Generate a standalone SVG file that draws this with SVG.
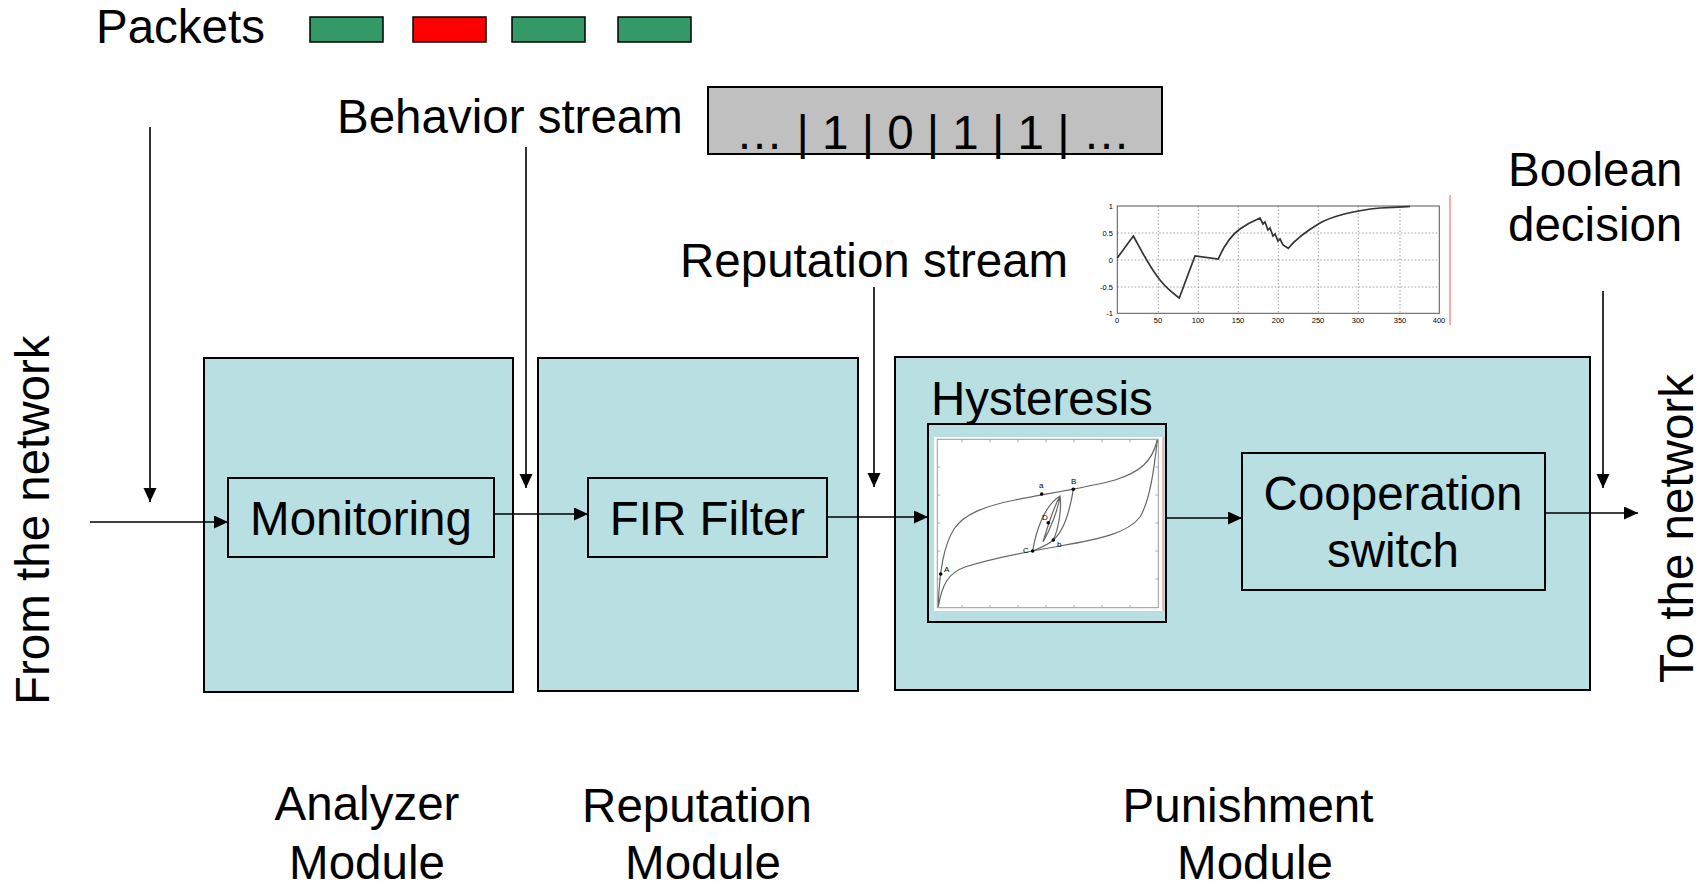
<svg xmlns="http://www.w3.org/2000/svg" width="1706" height="887" viewBox="0 0 1706 887">
<defs>
<marker id="ah" markerUnits="userSpaceOnUse" markerWidth="15" markerHeight="14" refX="14" refY="6.5" orient="auto">
<path d="M0,0 L14,6.5 L0,13 Z" fill="#000"/>
</marker>
<style>
text{font-family:"Liberation Sans",Arial,sans-serif;fill:#000}
.lbl{font-size:47.5px}
.mod{fill:#B8DFE2;stroke:#000;stroke-width:2}
.box{fill:none;stroke:#000;stroke-width:2}
.conn{fill:none;stroke:#000;stroke-width:1.6;marker-end:url(#ah)}
.pk{stroke:#000;stroke-width:1.5}
.tick{font-size:7.5px;fill:#555}
.crv{fill:none;stroke:#333;stroke-width:1.7}
.hc{fill:none;stroke:#666;stroke-width:1.2}
.hl{font-size:8px;fill:#666}
</style>
</defs>
<rect width="1706" height="887" fill="#fff"/>

<g id="packets">
<text class="lbl" x="96" y="43">Packets</text>
<rect class="pk" x="310" y="17" width="73" height="25" fill="#339966"/>
<rect class="pk" x="413" y="17" width="73" height="25" fill="#FF0000"/>
<rect class="pk" x="512" y="17" width="73" height="25" fill="#339966"/>
<rect class="pk" x="618" y="17" width="73" height="25" fill="#339966"/>
</g>

<g id="behavior-stream">
<text class="lbl" x="337" y="133">Behavior stream</text>
<rect x="708" y="87" width="454" height="67" fill="#C0C0C0" stroke="#000" stroke-width="2"/>
<text class="lbl" x="933" y="149" text-anchor="middle">… | 1 | 0 | 1 | 1 | …</text>
</g>

<g id="reputation-stream">
<text class="lbl" x="680" y="277">Reputation stream</text>
<rect x="1100" y="196" width="352" height="132" fill="#fff"/>
<g stroke="#888" stroke-width="0.8" stroke-dasharray="1.5,2">
<path d="M1158.3,206V313M1198.3,206V313M1238.3,206V313M1278.3,206V313M1318.3,206V313M1358.3,206V313M1400,206V313"/>
<path d="M1117.3,233H1439.3M1117.3,260H1439.3M1117.3,287H1439.3"/>
</g>
<rect x="1117.3" y="206" width="322" height="107.3" fill="none" stroke="#555" stroke-width="1"/>
<path class="crv" d="M1117.3,258 L1133.3,236 C1140,248 1150,268 1160,280 C1167,289 1174,294 1179.3,298 L1195,256 L1218.3,259 C1223,248 1230,236 1240,229 C1247,224 1253,221 1260,218 L1263,224 L1265,222 L1268,230 L1270,228 L1273,236 L1275,234 L1278,241 L1280,239 L1283,245 L1288.3,248.3 C1295,240 1305,232 1320,223 C1335,215 1360,210 1380,208 C1395,207 1405,206.7 1410,206.5"/>
<g class="tick" text-anchor="end">
<text x="1113" y="209">1</text><text x="1113" y="236">0.5</text><text x="1113" y="263">0</text><text x="1113" y="290">-0.5</text><text x="1113" y="316">-1</text>
</g>
<g class="tick" text-anchor="middle">
<text x="1117" y="323">0</text><text x="1158" y="323">50</text><text x="1198" y="323">100</text><text x="1238" y="323">150</text><text x="1278" y="323">200</text><text x="1318" y="323">250</text><text x="1358" y="323">300</text><text x="1400" y="323">350</text><text x="1439" y="323">400</text>
</g>
<line x1="1450" y1="195" x2="1450" y2="325" stroke="#FF7070" stroke-width="1.2"/>
</g>

<g id="boolean-decision">
<text class="lbl" x="1508" y="186">Boolean</text>
<text class="lbl" x="1508" y="241">decision</text>
</g>

<g id="analyzer-module">
<rect class="mod" x="204" y="358" width="309" height="334"/>
<text class="lbl" x="367" y="820" text-anchor="middle">Analyzer</text>
<text class="lbl" x="367" y="879" text-anchor="middle">Module</text>
</g>

<g id="reputation-module">
<rect class="mod" x="538" y="358" width="320" height="333"/>
<text class="lbl" x="697" y="822" text-anchor="middle">Reputation</text>
<text class="lbl" x="703" y="879" text-anchor="middle">Module</text>
</g>

<g id="punishment-module">
<rect class="mod" x="895" y="357" width="695" height="333"/>
<text class="lbl" x="1248" y="822" text-anchor="middle">Punishment</text>
<text class="lbl" x="1255" y="879" text-anchor="middle">Module</text>
</g>

<g id="monitoring">
<rect class="box" x="228" y="478" width="266" height="79"/>
<text class="lbl" x="361" y="535" text-anchor="middle">Monitoring</text>
</g>

<g id="fir-filter">
<rect class="box" x="588" y="478" width="239" height="79"/>
<text class="lbl" x="707.5" y="535" text-anchor="middle">FIR Filter</text>
</g>

<g id="hysteresis">
<text class="lbl" x="931" y="415">Hysteresis</text>
<rect x="928" y="424" width="238" height="198" fill="#B8DFE2" stroke="#000" stroke-width="2"/>
<rect x="934" y="437" width="229" height="174" fill="#fff"/>
<rect x="937.3" y="439.3" width="221" height="168.4" fill="none" stroke="#999" stroke-width="1"/>
<path d="M962,439.3v3M990,439.3v3M1018,439.3v3M1046,439.3v3M1074,439.3v3M1102,439.3v3M1130,439.3v3M962,607.7v-3M990,607.7v-3M1018,607.7v-3M1046,607.7v-3M1074,607.7v-3M1102,607.7v-3M1130,607.7v-3M937.3,467h3M937.3,495h3M937.3,523h3M937.3,551h3M937.3,579h3M1158.3,467h-3M1158.3,495h-3M1158.3,523h-3M1158.3,551h-3M1158.3,579h-3" stroke="#999" stroke-width="0.8"/>
<path class="hc" d="M938.3,606.7 C939,575 944,545 954,529 C964,514 985,506 1015,500 C1045,494 1090,487 1115,480 C1140,472 1152,462 1157.3,440"/>
<path class="hc" d="M1157.3,440 C1154,470 1150,500 1140,517 C1128,533 1100,539 1060,546 C1020,553 990,559 965,567 C948,573 942,585 938.3,606.7"/>
<path class="hc" d="M1032.7,551 C1036,530 1045,505 1060,496 C1062,510 1058,530 1053.3,540 M1043,542 C1048,525 1055,505 1060,496 C1058,510 1050,530 1043,542 M1073.3,489.3 C1070,510 1065,530 1053.3,540 M1032.7,551 C1040,548 1048,545 1053.3,540"/>
<g fill="#000">
<circle cx="940.7" cy="574" r="1.8"/><circle cx="1041.7" cy="494" r="1.8"/><circle cx="1073.3" cy="489.3" r="1.8"/><circle cx="1032.7" cy="551" r="1.8"/><circle cx="1053.3" cy="540" r="1.8"/><circle cx="1048.3" cy="522.7" r="1.8"/>
</g>
<g class="hl">
<text x="944" y="572">A</text><text x="1039" y="488">a</text><text x="1071" y="484">B</text><text x="1023" y="553">C</text><text x="1057" y="547">b</text><text x="1042" y="520">D</text>
</g>
<line x1="1163" y1="437" x2="1163" y2="611" stroke="#FF8080" stroke-width="1"/>
</g>

<g id="cooperation-switch">
<rect class="box" x="1242" y="453" width="303" height="137"/>
<text class="lbl" x="1393" y="510" text-anchor="middle">Cooperation</text>
<text class="lbl" x="1393" y="567" text-anchor="middle">switch</text>
</g>

<g id="from-network">
<text class="lbl" transform="translate(49,705) rotate(-90)">From the network</text>
</g>
<g id="to-network">
<text class="lbl" transform="translate(1693,683) rotate(-90)">To the network</text>
</g>

<g id="connectors">
<path class="conn" d="M90,522 H228"/>
<path class="conn" d="M494,514 H588"/>
<path class="conn" d="M827,517 H928"/>
<path class="conn" d="M1166,518 H1242"/>
<path class="conn" d="M1545,513 H1638"/>
<path class="conn" d="M150,127 V502"/>
<path class="conn" d="M526,147 V488"/>
<path class="conn" d="M874,287 V487"/>
<path class="conn" d="M1603,291 V488"/>
</g>
</svg>
